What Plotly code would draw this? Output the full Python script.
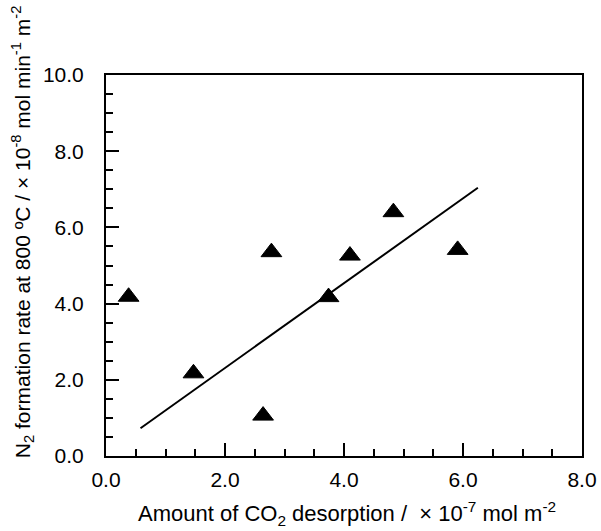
import plotly.graph_objects as go

# Data
co2_desorption = [0.38, 1.47, 2.64, 2.78, 3.74, 4.10, 4.83, 5.91]
n2_rate = [4.18, 2.17, 1.06, 5.35, 4.17, 5.26, 6.40, 5.41]
fit_x = [0.58, 6.25]
fit_y = [0.73, 7.04]

x_ticks = [0, 2, 4, 6, 8]
y_ticks = [0, 2, 4, 6, 8, 10]

FONT = "Liberation Sans, Arial, sans-serif"

fig = go.Figure()
fig.add_trace(go.Scatter(x=fit_x, y=fit_y, mode="lines",
                         line=dict(color="black", width=2), showlegend=False))
fig.add_trace(go.Scatter(x=co2_desorption, y=n2_rate, mode="markers",
                         marker=dict(symbol="triangle-up", size=18, color="black",
                                     line=dict(color="black", width=1)),
                         showlegend=False))

axis_common = dict(showline=True, mirror=True, linecolor="black", linewidth=2,
                   showgrid=False, zeroline=False, ticks="inside", ticklen=13,
                   tickwidth=1.5, tickcolor="black", tickformat=".1f",
                   automargin=False,
                   tickfont=dict(family=FONT, size=21, color="black"),
                   minor=dict(ticks="inside", ticklen=7, tickwidth=1.5,
                              tickcolor="black", dtick=0.5))

fig.update_xaxes(range=[0, 8], tickvals=x_ticks, ticklabelstandoff=4, **axis_common)
fig.update_yaxes(range=[0, 10], tickvals=y_ticks, ticklabelstandoff=16, **axis_common)

fig.add_annotation(text="Amount of CO<sub>2</sub> desorption /  × 10<sup>-7</sup> mol m<sup>-2</sup>",
                   xref="paper", yref="paper", x=0.507, y=-0.151, showarrow=False,
                   xanchor="center", yanchor="middle",
                   font=dict(family=FONT, size=22, color="black"))
fig.add_annotation(text="N<sub>2</sub> formation rate at 800 ºC / × 10<sup>-8</sup> mol min<sup>-1</sup> m<sup>-2</sup>",
                   xref="paper", yref="paper", x=-0.174, y=0.588, showarrow=False,
                   textangle=-90, xanchor="center", yanchor="middle",
                   font=dict(family=FONT, size=21, color="black"))

fig.update_layout(width=601, height=531, paper_bgcolor="white", plot_bgcolor="white",
                  margin=dict(l=106, r=19, t=75, b=75))

fig.write_html("out.html")
